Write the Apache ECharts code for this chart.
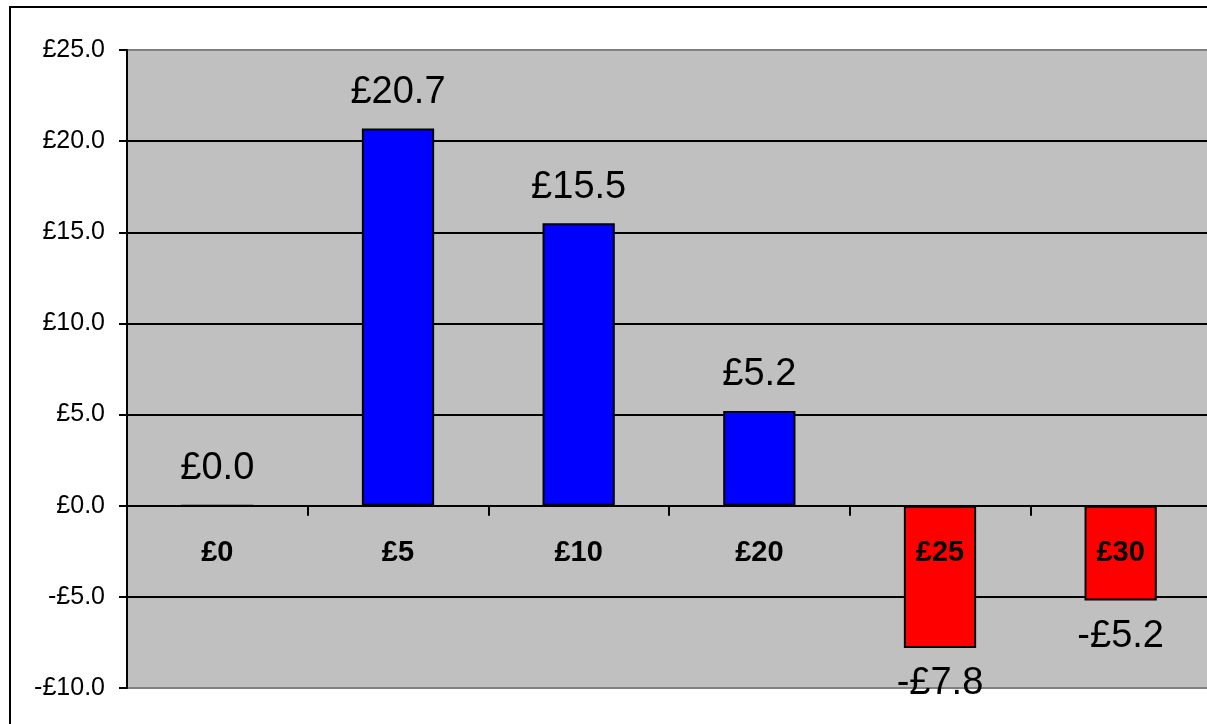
<!DOCTYPE html>
<html>
<head>
<meta charset="utf-8">
<script src="https://cdn.jsdelivr.net/npm/echarts@6/dist/echarts.min.js"></script>
<style>
html,body{margin:0;padding:0;background:#fff;}
#chart{width:1207px;height:724px;}
</style>
</head>
<body>
<div id="chart"></div>
<script>
const categories = ['£0', '£5', '£10', '£20', '£25', '£30'];
const values = [0.0, 20.7, 15.5, 5.2, -7.8, -5.2];
const yMin = -10, yMax = 25, yStep = 5;

function money(v) {
  return (v < 0 ? '-£' : '£') + Math.abs(v).toFixed(1);
}
const FONT = 'Liberation Sans, Arial, sans-serif';

const chart = echarts.init(document.getElementById('chart'));
chart.setOption({
  animation: false,
  backgroundColor: '#ffffff',
  textStyle: { fontFamily: FONT },
  graphic: [{
    type: 'rect',
    shape: { x: 10, y: 7, width: 1400, height: 900 },
    style: { fill: 'none', stroke: '#000', lineWidth: 2 },
    z: -1
  }],
  grid: {
    left: 127, top: 50, right: -4, bottom: 36,
    containLabel: false,
    outerBoundsMode: 'none',
    show: true, backgroundColor: '#C0C0C0', borderColor: '#808080', borderWidth: 2
  },
  xAxis: [{
    type: 'category',
    data: categories,
    z: 10,
    axisLine: { onZero: true, lineStyle: { color: '#000', width: 2 } },
    axisTick: { show: true, length: 10, lineStyle: { color: '#000', width: 2 } },
    axisLabel: { show: false },
    splitLine: { show: false }
  }, {
    type: 'category',
    data: categories,
    position: 'bottom',
    offset: -150,
    z: 10,
    axisLine: { show: false, onZero: false },
    axisTick: { show: false },
    axisLabel: {
      margin: 0, color: '#000', fontSize: 29, fontWeight: 'bold', fontFamily: FONT
    },
    splitLine: { show: false }
  }],
  yAxis: {
    type: 'value',
    min: yMin, max: yMax, interval: yStep,
    axisLine: { show: true, lineStyle: { color: '#000', width: 2 } },
    axisTick: { show: true, length: 8, lineStyle: { color: '#000', width: 2 } },
    axisLabel: {
      formatter: money, color: '#000', fontSize: 25, margin: 22, fontFamily: FONT
    },
    splitLine: {
      show: true,
      lineStyle: { color: ['#808080', '#000', '#000', '#000', '#000', '#000', '#000', '#808080'], width: 2 }
    }
  },
  series: [{
    type: 'bar',
    xAxisIndex: 0,
    data: values.map(v => ({
      value: v,
      itemStyle: { color: v < 0 ? '#FF0000' : '#0000FF' },
      label: { position: v < 0 ? 'bottom' : 'top' }
    })),
    barWidth: '40%',
    itemStyle: { borderColor: '#000', borderWidth: 2 },
    label: {
      show: true, distance: 17, formatter: p => money(p.value),
      color: '#000', fontSize: 38, fontFamily: FONT
    }
  }]
});
</script>
</body>
</html>
